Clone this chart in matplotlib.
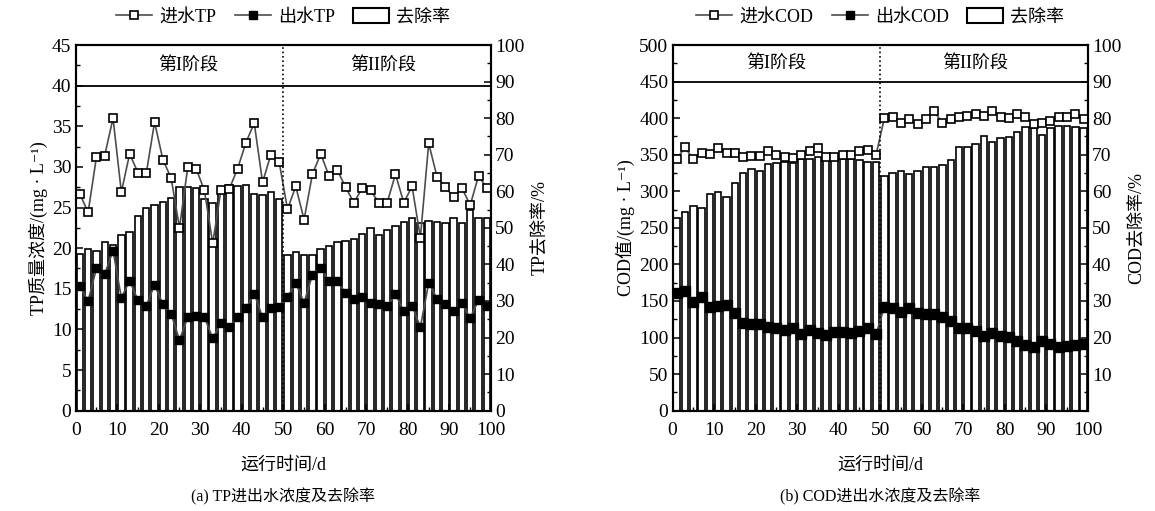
import matplotlib
matplotlib.use("Agg")
import matplotlib.pyplot as plt
import numpy as np
from matplotlib.lines import Line2D
from matplotlib.patches import Patch
from matplotlib.ticker import MultipleLocator


plt.rcParams['font.family'] = ['Liberation Serif', 'Noto Sans CJK SC', 'DejaVu Serif']

OUTPUT_FILE = "out.png"

# sampling days (every second day)
days = np.arange(1, 100, 2)

tp_in = [26.7, 24.4, 31.2, 31.4, 36.0, 26.9, 31.6, 29.3, 29.2, 35.5,
         30.9, 28.6, 22.5, 30.0, 29.8, 27.1, 20.6, 27.2, 27.3, 29.8,
         33.0, 35.4, 28.1, 31.5, 30.6, 24.8, 27.6, 23.5, 29.1, 31.6,
         28.9, 29.6, 27.5, 25.6, 27.4, 27.1, 25.6, 25.6, 29.1, 25.6,
         27.6, 21.3, 32.9, 28.8, 27.5, 26.3, 27.4, 25.3, 28.9, 27.4]
tp_out = [15.3, 13.5, 17.5, 16.8, 19.7, 13.9, 16.0, 13.6, 12.9, 15.5,
          13.1, 11.9, 8.7, 11.5, 11.6, 11.5, 8.9, 10.8, 10.3, 11.5,
          12.6, 14.4, 11.5, 12.6, 12.7, 14.0, 15.7, 13.3, 16.7, 17.6,
          15.9, 15.9, 14.5, 13.7, 14.0, 13.3, 13.1, 12.9, 14.3, 12.3,
          12.9, 10.3, 15.7, 13.8, 13.1, 12.3, 13.2, 11.4, 13.6, 12.9]
tp_rm = [42.8, 44.1, 43.8, 46.0, 45.3, 48.0, 49.0, 53.3, 55.3, 56.2,
         57.2, 58.1, 61.3, 61.3, 60.8, 57.8, 56.7, 60.8, 61.7, 61.5,
         61.7, 59.3, 59.0, 59.9, 57.9, 42.6, 43.3, 42.6, 42.6, 44.2,
         45.1, 46.2, 46.5, 46.9, 48.2, 49.9, 48.0, 49.4, 50.6, 51.7,
         52.6, 51.2, 51.9, 51.7, 51.2, 52.6, 51.4, 55.0, 52.6, 52.6]

cod_in = [344.1, 360.1, 343.7, 351.9, 351.0, 359.6, 352.7, 352.7, 346.5, 348.2,
          348.2, 355.5, 349.6, 347.3, 345.1, 349.6, 355.5, 358.8, 346.5, 347.3,
          349.6, 349.6, 355.5, 356.4, 349.6, 399.8, 402.0, 392.9, 398.8, 392.0,
          398.4, 409.7, 392.9, 398.4, 401.1, 402.9, 405.2, 402.9, 409.7, 402.0,
          399.8, 405.2, 401.1, 391.6, 393.8, 396.5, 401.1, 402.0, 405.6, 398.8]
cod_out = [161.3, 164.1, 149.0, 155.9, 142.2, 143.1, 144.5, 133.2, 120.3, 118.0,
           118.5, 114.9, 112.6, 110.3, 112.6, 104.4, 110.3, 106.6, 103.5, 108.0,
           108.0, 106.6, 109.4, 112.6, 104.4, 141.3, 140.0, 134.5, 140.0, 133.2,
           131.8, 131.8, 127.7, 123.1, 112.6, 112.6, 109.0, 102.1, 106.6, 102.1,
           100.3, 95.3, 89.8, 87.5, 95.7, 90.8, 87.5, 88.9, 89.8, 90.8]
cod_rm = [52.6, 54.4, 56.1, 55.3, 59.2, 59.7, 58.5, 62.2, 65.1, 66.0,
          65.5, 67.4, 67.8, 68.1, 67.8, 68.7, 68.7, 69.5, 68.7, 68.7,
          68.7, 68.7, 68.6, 67.9, 67.9, 64.2, 64.9, 65.5, 64.7, 65.6,
          66.6, 66.7, 67.2, 68.6, 72.2, 72.2, 72.9, 75.1, 73.6, 74.5,
          74.9, 76.3, 77.7, 77.2, 75.4, 77.2, 77.9, 77.9, 77.7, 77.2]

LINE_COLOR = '#4d4d4d'
FS = 14     # tick numbers
CFS = 13    # chinese labels


def draw_panel(rect, c_in, c_out, rm, ymax, ystep, yline, name, ylabel,
               phase_x, caption, ms_out, hide_zero_right):
    ax = fig.add_axes(rect)
    ax2 = ax.twinx()
    ax.set_zorder(ax2.get_zorder() + 1)
    ax.patch.set_visible(False)

    ax2.bar(days, rm, width=1.55, color='white', edgecolor='black', linewidth=1.2)
    ax.plot(days, c_in, color=LINE_COLOR, lw=1.2, marker='s', ms=5.5,
            mfc='white', mec='black', mew=1.2)
    ax.plot(days, c_out, color=LINE_COLOR, lw=1.2, marker='s', ms=ms_out,
            mfc='black', mec='black')

    ax.axhline(yline, color='black', lw=1.3)
    ax.axvline(50, color='black', lw=1.2, ls=':')
    ax.text(phase_x[0], (yline + ymax) / 2, '第I阶段', ha='center', va='center', fontsize=CFS)
    ax.text(phase_x[1], (yline + ymax) / 2, '第II阶段', ha='center', va='center', fontsize=CFS)

    ax.set_xlim(0, 100)
    ax.set_ylim(0, ymax)
    ax2.set_ylim(0, 100)
    ax.xaxis.set_major_locator(MultipleLocator(10))
    ax.xaxis.set_minor_locator(MultipleLocator(5))
    ax.yaxis.set_major_locator(MultipleLocator(ystep))
    ax.yaxis.set_minor_locator(MultipleLocator(ystep / 2))
    ax2.yaxis.set_major_locator(MultipleLocator(10))
    ax2.yaxis.set_minor_locator(MultipleLocator(5))
    if hide_zero_right:
        ax2.set_yticks(np.arange(0, 101, 10))
        ax2.set_yticklabels([''] + [str(v) for v in range(10, 101, 10)])

    for a in (ax, ax2):
        a.tick_params(which='major', direction='in', length=5, width=1.1, labelsize=FS)
        a.tick_params(which='minor', direction='in', length=3, width=1.0)
        for s in a.spines.values():
            s.set_linewidth(1.5)
    ax.tick_params(axis='x', pad=8)
    ax.tick_params(axis='y', pad=3)
    ax2.tick_params(axis='y', pad=3)

    ax.set_xlabel('运行时间/d', fontsize=CFS, labelpad=13)
    ax.set_ylabel(ylabel, fontsize=CFS, labelpad=3)
    ax2.set_ylabel(name + '去除率/%', fontsize=CFS, labelpad=5)

    handles = [
        Line2D([], [], color=LINE_COLOR, lw=1.2, marker='s', ms=5.5,
               mfc='white', mec='black', mew=1.2, label='进水' + name),
        Line2D([], [], color=LINE_COLOR, lw=1.2, marker='s', ms=5.5,
               mfc='black', mec='black', label='出水' + name),
        Patch(facecolor='white', edgecolor='black', linewidth=1.5, label='去除率'),
    ]
    ax.legend(handles=handles, loc='center', bbox_to_anchor=(0.5, 1.077), ncol=3,
              frameon=False, fontsize=CFS, handlelength=2.0, handleheight=0.9,
              handletextpad=0.4, columnspacing=1.0, borderaxespad=0)

    cx = rect[0] + rect[2] / 2
    fig.text(cx, 1 - 497 / 511, caption, ha='center', va='center', fontsize=11.5)


fig = plt.figure(figsize=(11.55, 5.11), dpi=100)

draw_panel([0.0655, 0.1963, 0.3596, 0.7156], tp_in, tp_out, tp_rm, 45, 5, 40, 'TP',
           'TP质量浓度/(mg · L⁻¹)', (27, 74), '(a) TP进出水浓度及去除率', 5.5, False)
draw_panel([0.5823, 0.1963, 0.3595, 0.7156], cod_in, cod_out, cod_rm, 500, 50, 450, 'COD',
           'COD值/(mg · L⁻¹)', (25, 73), '(b) COD进出水浓度及去除率', 6.5, True)

fig.savefig(OUTPUT_FILE, dpi=100)
print(f"Saved {OUTPUT_FILE}")
